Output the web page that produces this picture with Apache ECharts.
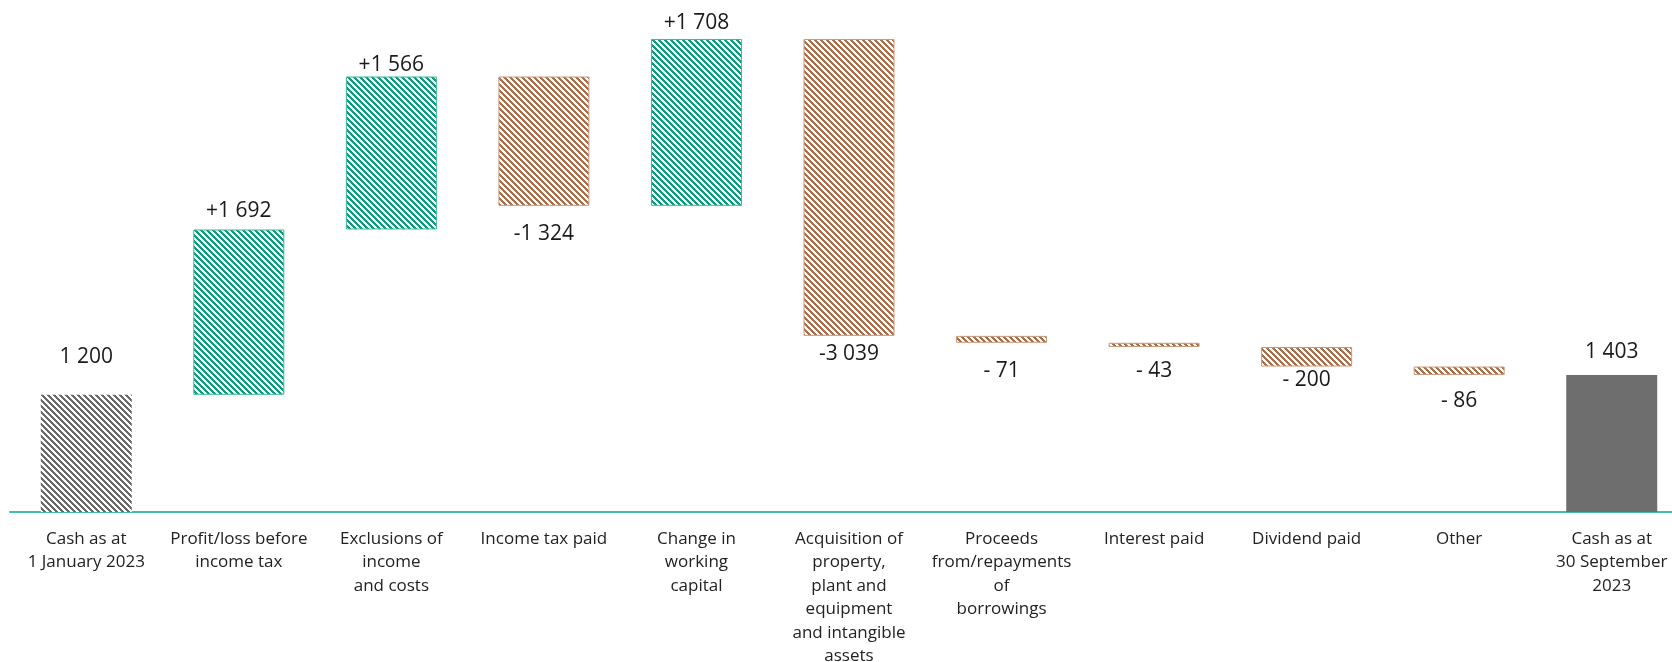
<!DOCTYPE html>
<html>
<head>
<meta charset="utf-8">
<script src="https://cdn.jsdelivr.net/npm/echarts@6/dist/echarts.min.js"></script>
<style>
  html, body { margin: 0; padding: 0; background: #fff; }
  #chart { width: 1672px; height: 662px; }
</style>
</head>
<body>
<div id="chart"></div>
<script>
// categories and cash flow steps (totals first and last)
const categories = [
  'Cash as at\n1 January 2023',
  'Profit/loss before\nincome tax',
  'Exclusions of\nincome\nand costs',
  'Income tax paid',
  'Change in\nworking\ncapital',
  'Acquisition of\nproperty,\nplant and\nequipment\nand intangible\nassets',
  'Proceeds\nfrom/repayments\nof\nborrowings',
  'Interest paid',
  'Dividend paid',
  'Other',
  'Cash as at\n30 September\n2023'
]
const changes = [1200, 1692, 1566, -1324, 1708, -3039, -71, -43, -200, -86, 1403]
const kinds = ['start', 'up', 'up', 'down', 'up', 'down', 'down', 'down', 'down', 'down', 'end']
const valueLabels = ['1 200', '+1 692', '+1 566', '-1 324', '+1 708', '-3 039', '- 71', '- 43', '- 200', '- 86', '1 403']

// gap between bar edge and its label (px)
const labelGaps = [27, 7, 0, 17, 5, 7, 17, 13, 2, 15, 12]

// hatch tile: diagonal stripes going down-right
function hatch(color, on) {
  const n = 6
  const c = document.createElement('canvas')
  c.width = n
  c.height = n
  const ctx = c.getContext('2d')
  ctx.fillStyle = '#fff'
  ctx.fillRect(0, 0, n, n)
  ctx.fillStyle = color
  for (let y = 0; y < n; y++) {
    for (let x = 0; x < n; x++) {
      if (((x - y) % n + n) % n < on) ctx.fillRect(x, y, 1, 1)
    }
  }
  return { image: c, repeat: 'repeat' }
}

const STYLE = {
  start: { color: hatch('#6a6a6a', 3), borderWidth: 0 },
  up: { color: hatch('#0f9e7b', 3), borderColor: '#3fb896', borderWidth: 1 },
  down: { color: hatch('#ab6f4c', 3), borderColor: '#c99a7d', borderWidth: 1 },
  end: { color: '#6e6e6e', borderWidth: 0 }
}

// build waterfall bases
const bases = []
const heights = []
let running = 0
changes.forEach((v, i) => {
  if (kinds[i] === 'start' || kinds[i] === 'end') {
    bases.push(0)
    heights.push(v)
    running = v
  } else if (v >= 0) {
    bases.push(running)
    heights.push(v)
    running += v
  } else {
    running += v
    bases.push(running)
    heights.push(-v)
  }
})

const chart = echarts.init(document.getElementById('chart'))
chart.setOption({
  animation: false,
  grid: { left: 10, width: 1678, top: 4, bottom: 150, containLabel: false, outerBoundsMode: 'none' },
  xAxis: {
    type: 'category',
    data: categories,
    axisLine: { lineStyle: { color: '#3fbfa8', width: 2 } },
    axisTick: { show: false },
    axisLabel: {
      interval: 0,
      margin: 15,
      color: '#222',
      fontFamily: 'Open Sans',
      fontSize: 17,
      lineHeight: 23.5,
      align: 'center'
    }
  },
  yAxis: {
    type: 'value',
    min: 0,
    max: 5200,
    show: false,
    splitLine: { show: false }
  },
  series: [
    {
      type: 'bar',
      stack: 'w',
      barWidth: 91,
      silent: true,
      itemStyle: { color: 'transparent' },
      data: bases
    },
    {
      type: 'bar',
      stack: 'w',
      barWidth: 91,
      data: heights.map((h, i) => ({
        value: h,
        itemStyle: STYLE[kinds[i]],
        label: {
          show: true,
          position: kinds[i] === 'down' ? 'bottom' : 'top',
          distance: labelGaps[i],
          formatter: valueLabels[i],
          color: '#1a1a1a',
          fontFamily: 'Open Sans',
          fontSize: 21,
          lineHeight: 22
        }
      }))
    }
  ]
})
</script>
</body>
</html>
